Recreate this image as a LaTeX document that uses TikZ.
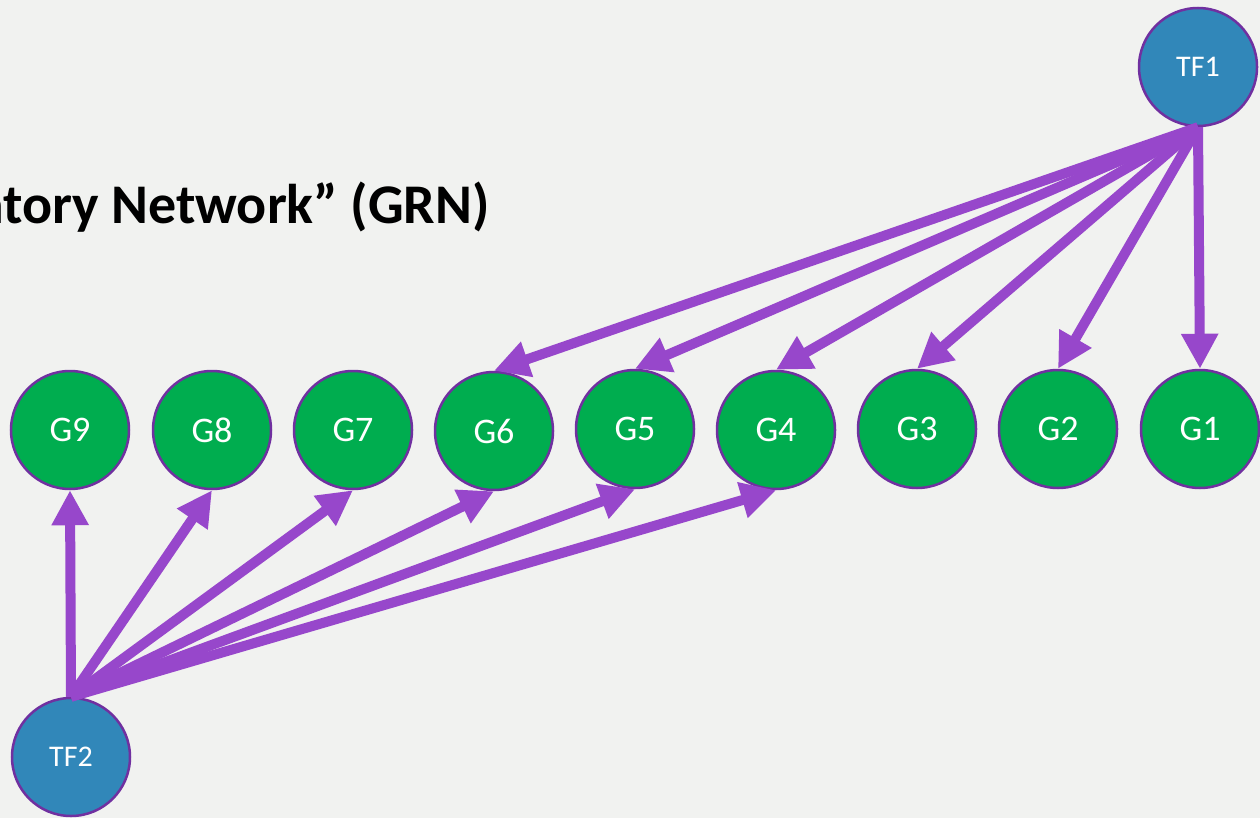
\documentclass[tikz,border=0pt]{standalone}
\usepackage{fontspec}
\setmainfont{Carlito}
\usetikzlibrary{arrows.meta}
\definecolor{bgc}{RGB}{241,242,240}
\definecolor{edgec}{RGB}{151,71,203}
\definecolor{rimc}{RGB}{112,48,160}
\definecolor{genec}{RGB}{0,173,79}
\definecolor{tfc}{RGB}{49,135,185}
\tikzset{
  gene/.style={circle, draw=rimc, line width=2.5pt, fill=genec, minimum size=118pt, inner sep=0pt,
    text=white, font=\fontsize{36}{36}\selectfont},
  tf/.style={circle, draw=rimc, line width=2.5pt, fill=tfc, minimum size=118pt, inner sep=0pt,
    text=white, font=\fontsize{30}{30}\selectfont},
  reg/.style={draw=edgec, line width=10pt, -{Triangle[length=35pt,width=35pt]}},
}
\begin{document}
\begin{tikzpicture}[x=1pt,y=-1pt]
  \fill[bgc] (0,0) rectangle (1260,818);
  \useasboundingbox (0,0) rectangle (1260,818);
  \clip (0,0) rectangle (1260,818);
  \node[anchor=base east, inner sep=0pt, font=\bfseries\fontsize{56}{56}\selectfont] (title) at (490,224)
    {“Gene Regulatory Network” (GRN)};
  % gene row
  \node[gene] (g9) at (70,430) {G9};
  \node[gene] (g8) at (212,430) {G8};
  \node[gene] (g7) at (353,430) {G7};
  \node[gene] (g6) at (494,431) {G6};
  \node[gene] (g5) at (635,429) {G5};
  \node[gene] (g4) at (776,430) {G4};
  \node[gene] (g3) at (917,429) {G3};
  \node[gene] (g2) at (1058,429) {G2};
  \node[gene] (g1) at (1200,429) {G1};
  % transcription factors
  \node[tf] (tf1) at (1198,67) {TF1};
  \node[tf] (tf2) at (71,757) {TF2};
  % regulation edges
  \foreach \g in {g1,g2,g3,g4,g5,g6}
    \draw[reg] (tf1.south) -- (\g.north);
  \foreach \g in {g9,g8,g7,g6,g5,g4}
    \draw[reg] (tf2.north) -- (\g.south);
\end{tikzpicture}
\end{document}
